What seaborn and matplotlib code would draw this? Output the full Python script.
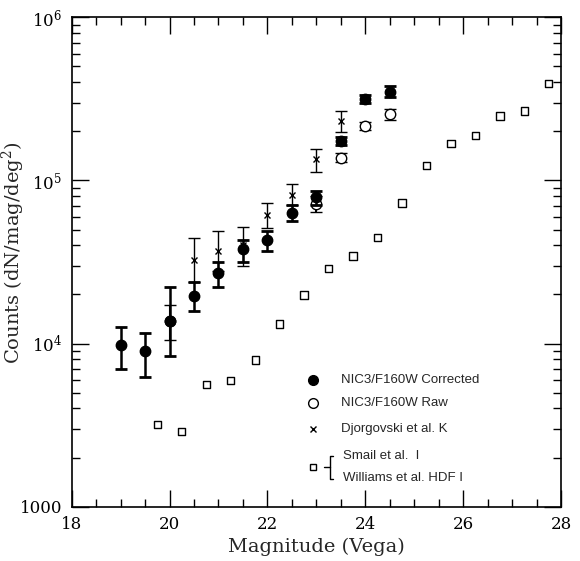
import numpy as np
import pandas as pd
import matplotlib
matplotlib.use("Agg")
import matplotlib.pyplot as plt
import seaborn as sns
from matplotlib.ticker import FixedLocator, FixedFormatter, LogLocator, NullFormatter, MultipleLocator

# ---------------- data ----------------
corr_mag = [19, 19.5, 20, 20.5, 21, 21.5, 22, 22.5, 23, 23.5, 24, 24.5]
corr_val = [9800, 8960, 13800, 19600, 26900, 37800, 43000, 63400, 78700, 174600, 315700, 349600]
corr_hi = [12600, 11650, 22300, 23900, 31800, 43000, 49200, 70600, 86100, 185000, 334000, 379000]
corr_lo = [6950, 6240, 8380, 15800, 22200, 31500, 37100, 56300, 70600, 165000, 299500, 323000]

raw_mag = [20, 23, 23.5, 24, 24.5]
raw_val = [13800, 71300, 137800, 216000, 255000]
raw_hi = [17200, 80000, 146600, 229000, 274000]
raw_lo = [10470, 64000, 129700, 204000, 234000]

dj_mag = [20.5, 21, 21.5, 22, 22.5, 23, 23.5]
dj_val = [32500, 37100, 40200, 61400, 81300, 135000, 232000]
dj_hi = [44200, 49200, 51500, 72900, 95000, 155000, 267000]
dj_lo = [23700, 28000, 30000, 51000, 70600, 113000, 199000]

sq_mag = [19.75, 20.25, 20.75, 21.25, 21.75, 22.25, 22.75, 23.25, 23.75,
          24.25, 24.75, 25.25, 25.75, 26.25, 26.75, 27.25, 27.75]
sq_val = [3200, 2880, 5590, 5940, 7920, 13200, 19900, 28900, 34500,
          44800, 72900, 123000, 168800, 188000, 248000, 266000, 393000]

ytick_vals = [1000, 1e4, 1e5, 1e6]
ytick_labels = ["1000", r"$10^4$", r"$10^5$", r"$10^6$"]
xtick_vals = [18, 20, 22, 24, 26, 28]

legend_labels = ["NIC3/F160W Corrected", "NIC3/F160W Raw", "Djorgovski et al. K",
                 "Smail et al.  I", "Williams et al. HDF I"]

# ---------------- style ----------------
sns.set_theme(style="ticks")
plt.rcParams["font.family"] = ["DejaVu Serif"]
plt.rcParams["mathtext.fontset"] = "dejavuserif"

fig = plt.figure(figsize=(5.8, 5.61), dpi=100)
ax = fig.add_axes([0.1236, 0.0968, 0.8437, 0.8723])

def yerr(val, lo, hi):
    v = np.array(val, float)
    return [v - np.array(lo, float), np.array(hi, float) - v]

# squares
sq_df = pd.DataFrame({"mag": sq_mag, "val": sq_val})
sns.scatterplot(data=sq_df, x="mag", y="val", marker="s", s=28, facecolor="none",
                edgecolor="black", linewidth=1.0, ax=ax, zorder=3)

# Djorgovski
ax.errorbar(dj_mag, dj_val, yerr=yerr(dj_val, dj_lo, dj_hi), fmt="x", color="black",
            ms=5, mew=1.0, elinewidth=1.0, capsize=4, capthick=1.2, zorder=4)
# raw
ax.errorbar(raw_mag, raw_val, yerr=yerr(raw_val, raw_lo, raw_hi), fmt="o", color="black",
            mfc="white", ms=7.5, mew=1.0, elinewidth=1.5, capsize=4, capthick=2, zorder=5)
# corrected
ax.errorbar(corr_mag, corr_val, yerr=yerr(corr_val, corr_lo, corr_hi), fmt="o", color="black",
            ms=7.5, elinewidth=1.8, capsize=4, capthick=2, zorder=6)

ax.set_yscale("log")
ax.set_xlim(18, 28)
ax.set_ylim(1000, 1e6)

ax.xaxis.set_major_locator(FixedLocator(xtick_vals))
ax.xaxis.set_minor_locator(MultipleLocator(0.5))
ax.yaxis.set_major_locator(FixedLocator(ytick_vals))
ax.yaxis.set_major_formatter(FixedFormatter(ytick_labels))
ax.yaxis.set_minor_locator(LogLocator(base=10, subs=np.arange(2, 10)))
ax.yaxis.set_minor_formatter(NullFormatter())

ax.tick_params(which="both", direction="in", top=True, right=True, colors="black", width=1.0)
ax.tick_params(which="major", length=12, labelsize=12, pad=7)
ax.tick_params(which="minor", length=6)
for s in ax.spines.values():
    s.set_linewidth(1.2)
    s.set_color("black")

ax.set_xlabel("Magnitude (Vega)", fontsize=14, labelpad=3)
ax.set_ylabel(r"Counts (dN/mag/deg$^2$)", fontsize=14)
ax.yaxis.set_label_coords(-0.092, 0.52)

# ---------------- legend (manual) ----------------
tf = ax.transAxes
lfont = dict(family=["Liberation Sans", "DejaVu Sans"], fontsize=9.5, va="center", ha="left")
mx, tx = 0.493, 0.550
ax.plot([mx], [0.259], "o", color="black", ms=7, transform=tf, clip_on=False)
ax.plot([mx], [0.2125], "o", color="black", mfc="white", ms=7, mew=1.0, transform=tf, clip_on=False)
ax.plot([mx], [0.158], "x", color="black", ms=5, mew=1.0, transform=tf, clip_on=False)
ax.plot([mx], [0.0811], "s", color="black", mfc="white", ms=5, mew=1.0, transform=tf, clip_on=False)
ax.text(tx, 0.259, legend_labels[0], transform=tf, **lfont)
ax.text(tx, 0.2125, legend_labels[1], transform=tf, **lfont)
ax.text(tx, 0.158, legend_labels[2], transform=tf, **lfont)
ax.text(tx + 0.005, 0.1036, legend_labels[3], transform=tf, **lfont)
ax.text(tx + 0.005, 0.0593, legend_labels[4], transform=tf, **lfont)
# brace
bx, tip, mid = 0.528, 0.535, 0.516
ax.plot([tip, bx, bx, tip], [0.1042, 0.1042, 0.0566, 0.0566], color="black", lw=1.0,
        transform=tf, clip_on=False)
ax.plot([mid, bx], [0.0811, 0.0811], color="black", lw=1.0, transform=tf, clip_on=False)

fig.savefig("out.png", dpi=100)
